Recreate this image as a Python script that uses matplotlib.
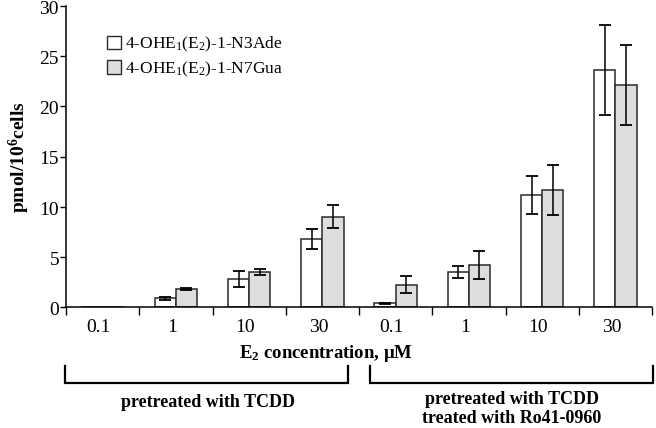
import matplotlib
matplotlib.use("Agg")
import matplotlib.pyplot as plt
from matplotlib.patches import Patch
from matplotlib.lines import Line2D
import matplotlib.transforms as mtransforms
import numpy as np

plt.rcParams['font.family'] = ['Liberation Serif', 'DejaVu Serif']
plt.rcParams['mathtext.fontset'] = 'custom'
plt.rcParams['mathtext.rm'] = 'Liberation Serif'
plt.rcParams['mathtext.it'] = 'Liberation Serif:italic'
plt.rcParams['mathtext.bf'] = 'Liberation Serif:bold'

categories = ["0.1", "1", "10", "30", "0.1", "1", "10", "30"]
n3ade = [0.0, 0.85, 2.75, 6.75, 0.35, 3.45, 11.2, 23.6]
n3ade_err = [0.0, 0.15, 0.8, 1.0, 0.08, 0.6, 1.9, 4.5]
n7gua = [0.0, 1.77, 3.5, 9.0, 2.2, 4.2, 11.7, 22.1]
n7gua_err = [0.0, 0.1, 0.3, 1.15, 0.85, 1.4, 2.5, 4.0]
series_labels = ["4-OHE$_\\mathrm{1}$(E$_\\mathrm{2}$)-1-N3Ade",
                 "4-OHE$_\\mathrm{1}$(E$_\\mathrm{2}$)-1-N7Gua"]
group_labels = ["pretreated with TCDD",
                "pretreated with TCDD\ntreated with Ro41-0960"]

W, H = 656, 428
fig = plt.figure(figsize=(W / 100, H / 100), dpi=100)
ax = fig.add_axes([66 / W, 1 - 307 / H, (652 - 66) / W, (307 - 6) / H])

x = np.arange(len(categories)) + 0.5
bw = 0.29
edge = '#2a2a2a'
ax.bar(x - bw / 2, n3ade, bw, color='white', edgecolor=edge, linewidth=1.1, zorder=2)
ax.bar(x + bw / 2, n7gua, bw, color='#dedede', edgecolor=edge, linewidth=1.1, zorder=2)
for xs, vals, errs in [(x - bw / 2, n3ade, n3ade_err), (x + bw / 2, n7gua, n7gua_err)]:
    keep = np.array(errs) > 0
    ax.errorbar(xs[keep], np.array(vals)[keep], yerr=np.array(errs)[keep], fmt='none',
                ecolor='black', elinewidth=1.1, capsize=4, capthick=1.3, zorder=3)

ax.set_xlim(0, len(categories))
ax.set_ylim(0, 30)
ax.set_yticks(np.arange(0, 31, 5))
ax.tick_params(axis='y', labelsize=14, length=4, width=1, direction='out', pad=1)
yoff = mtransforms.ScaledTranslation(0, -1.5 / 100, fig.dpi_scale_trans)
for lab in ax.get_yticklabels():
    lab.set_transform(lab.get_transform() + yoff)
ax.set_xticks(np.arange(0, len(categories) + 1))
ax.set_xticklabels([])
ax.tick_params(axis='x', which='major', length=6, width=1, direction='out')
ax.set_xticks(x, minor=True)
ax.set_xticklabels(categories, minor=True)
ax.tick_params(axis='x', which='minor', length=0, labelsize=14, pad=9)
offset = mtransforms.ScaledTranslation(-4 / 100, 0, fig.dpi_scale_trans)
for lab in ax.get_xticklabels(minor=True):
    lab.set_transform(lab.get_transform() + offset)

for s in ['top', 'right']:
    ax.spines[s].set_visible(False)
for s in ['left', 'bottom']:
    ax.spines[s].set_linewidth(1.1)

fig.text(19 / W, 1 - 157 / H, "pmol/10$^\\mathbf{6}$cells", rotation=90, fontsize=14,
         fontweight='bold', ha='center', va='center')
fig.text(326 / W, 1 - 358 / H, "E$_\\mathbf{2}$ concentration, μM", fontsize=13.5,
         fontweight='bold', ha='center', va='baseline')

handles = [Patch(facecolor='white', edgecolor=edge, linewidth=1.0),
           Patch(facecolor='#dedede', edgecolor=edge, linewidth=1.0)]
ax.legend(handles, series_labels, loc='upper left', bbox_to_anchor=(34 / 586, 1 - 22 / 301),
          frameon=False, fontsize=12.5, handlelength=0.8, handleheight=0.8,
          handletextpad=0.25, labelspacing=0.3, borderaxespad=0)

# group brackets
for x0, x1 in [(65, 348), (370, 653)]:
    fig.add_artist(Line2D([x0 / W, x0 / W, x1 / W, x1 / W],
                          [1 - 366 / H, 1 - 383 / H, 1 - 383 / H, 1 - 366 / H],
                          color='black', linewidth=1.6, solid_joinstyle='miter'))
fig.text(208 / W, 1 - 407 / H, group_labels[0], fontsize=13, fontweight='bold',
         ha='center', va='baseline')
fig.text(512 / W, 1 - 423 / H, group_labels[1], fontsize=13, fontweight='bold',
         ha='center', va='baseline', linespacing=1.15, multialignment='center')

fig.savefig("out.png", dpi=100)
